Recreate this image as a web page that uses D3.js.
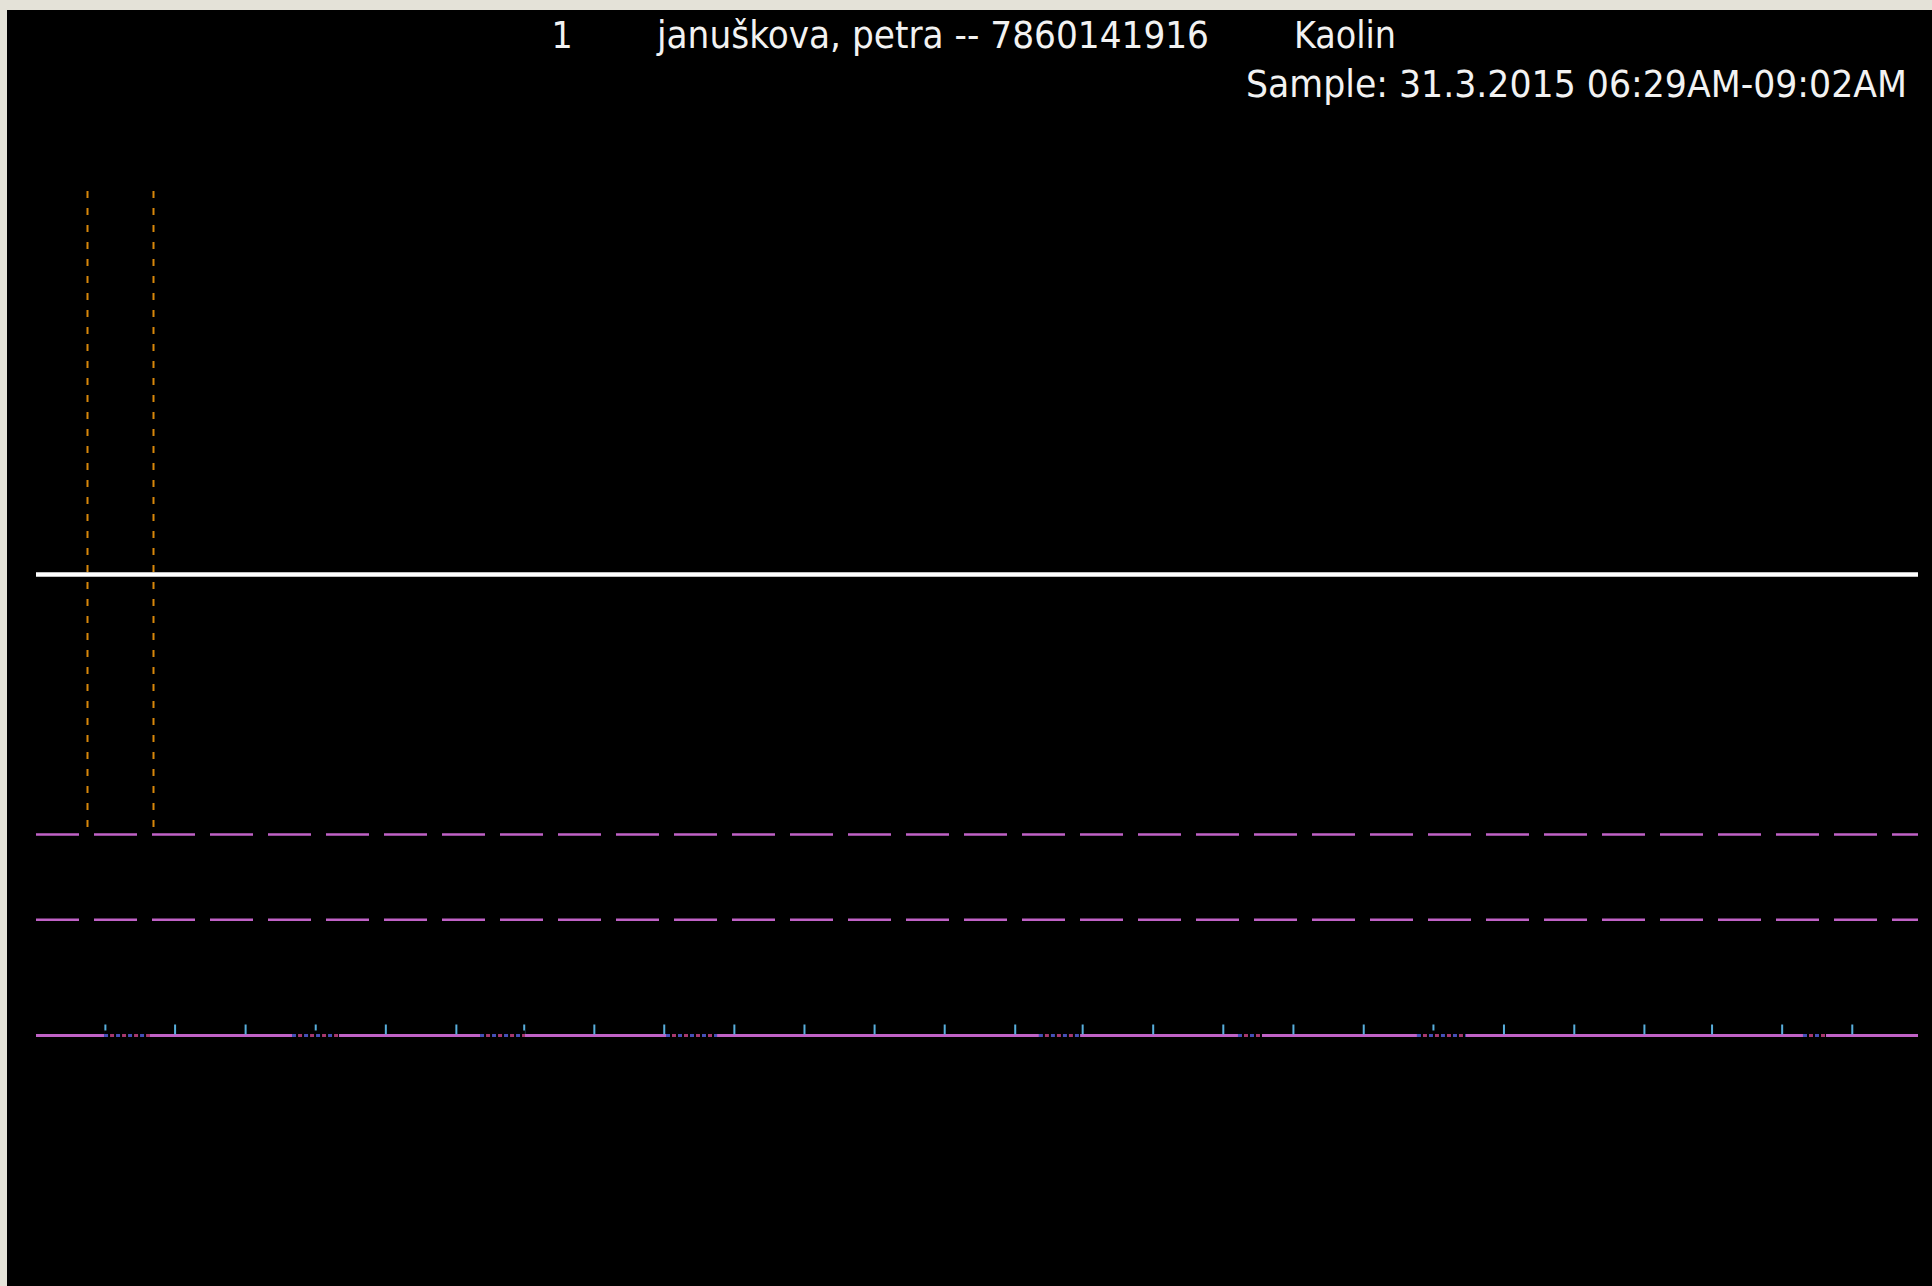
<!DOCTYPE html>
<html>
<head>
<meta charset="utf-8">
<script src="https://cdn.jsdelivr.net/npm/d3@7"></script>
<style>
  html, body { margin: 0; padding: 0; background: #e4e2d8; overflow: hidden; }
  svg { display: block; }
</style>
</head>
<body>
<svg id="chart" width="1932" height="1286"></svg>
<script>
// header texts
const headerItems = ["1", "januškova, petra -- 7860141916", "Kaolin"];
const sampleLabel = "Sample: 31.3.2015 06:29AM-09:02AM";

// time axis in seconds from 06:29 to 09:02
const timeDomain = [0, 9180];

// blue epoch ticks (seconds)
const tickTimes = [336, 676, 1020, 1362, 1704, 2048, 2379, 2721, 3062, 3404,
    3746, 4088, 4430, 4774, 5103, 5447, 5789, 6131, 6474, 6814,
    7158, 7501, 7843, 8173, 8515, 8857];

// dotted stretches on the base line (seconds)
const gapStarts = [332, 1249, 2166, 3073, 4892, 5863, 6736, 8619];
const gapEnds = [556, 1478, 2385, 3322, 5093, 5980, 6975, 8731];

// orange event markers (seconds)
const markerTimes = [251, 571];
const markerTop = 100;

// white trace
const traceTimes = [0, 9180];
const traceValues = [54.6, 54.6];

// purple dashed reference levels and base level
const thresholdValues = [23.8, 13.7];
const baseValue = 0;

const svg = d3.select("#chart");
const W = +svg.attr("width"), H = +svg.attr("height");

var x = d3.scaleLinear().domain(timeDomain).range([36, 1918]);
var y = d3.scaleLinear().domain([0, 100]).range([1035.5, 191]);

// black panel
svg.append("rect")
    .attr("x", 7)
    .attr("y", 10)
    .attr("width", W - 7)
    .attr("height", H - 10)
    .attr("fill", "#000");

// header
const font = "'DejaVu Sans Condensed', 'DejaVu Sans', sans-serif";
const header = [
    { t: headerItems[0], x: 562, y: 48, anchor: "middle" },
    { t: headerItems[1], x: 657, y: 48, len: 552 },
    { t: headerItems[2], x: 1294, y: 48, len: 102 },
    { t: sampleLabel, x: 1246, y: 97, len: 661 },
];
header.forEach(h => {
    var txt = svg.append("text")
        .attr("x", h.x)
        .attr("y", h.y)
        .attr("fill", "#f2f2f2")
        .attr("text-anchor", h.anchor || "start")
        .style("font-family", font)
        .style("font-size", "37px")
        .text(h.t);
    if (h.len) {
        txt.attr("textLength", h.len).attr("lengthAdjust", "spacingAndGlyphs");
    }
});

// orange markers
svg.append("g")
    .selectAll("line")
    .data(markerTimes)
    .join("line")
    .attr("x1", d => Math.round(x(d)) + 0.5)
    .attr("x2", d => Math.round(x(d)) + 0.5)
    .attr("y1", y(markerTop))
    .attr("y2", y(thresholdValues[0]))
    .attr("stroke", "#d8870a")
    .attr("stroke-width", 2)
    .attr("stroke-dasharray", "7,10");

// white trace
svg.append("path")
    .datum(traceTimes.map((t, i) => [t, traceValues[i]]))
    .attr("fill", "none")
    .attr("stroke", "#ffffff")
    .attr("stroke-width", 4.5)
    .attr("d", d3.line().x(d => x(d[0])).y(d => y(d[1])));

// purple dashed levels
svg.append("g")
    .selectAll("line")
    .data(thresholdValues)
    .join("line")
    .attr("x1", x(timeDomain[0]))
    .attr("x2", x(timeDomain[1]))
    .attr("y1", d => y(d))
    .attr("y2", d => y(d))
    .attr("stroke", "#c062c6")
    .attr("stroke-width", 2.5)
    .attr("stroke-dasharray", "43,15");

// base line
svg.append("line")
    .attr("x1", x(timeDomain[0]))
    .attr("x2", x(timeDomain[1]))
    .attr("y1", y(baseValue))
    .attr("y2", y(baseValue))
    .attr("stroke", "#c062c6")
    .attr("stroke-width", 3);

// epoch ticks
var axis = svg.append("g")
    .attr("transform", "translate(0," + (y(baseValue) - 1) + ")")
    .call(d3.axisTop(x).tickValues(tickTimes).tickSize(10).tickFormat(""));
axis.select(".domain").remove();
axis.selectAll(".tick line")
    .attr("stroke", "#58aedc")
    .attr("stroke-width", 2);

// dotted stretches: mask then dashes
const gaps = gapStarts.map((s, i) => [s, gapEnds[i]]);
var gg = svg.append("g");
gg.selectAll("rect")
    .data(gaps)
    .join("rect")
    .attr("x", d => x(d[0]))
    .attr("width", d => x(d[1]) - x(d[0]))
    .attr("y", y(baseValue) - 5)
    .attr("height", 9)
    .attr("fill", "#000");
gg.selectAll("line.b")
    .data(gaps)
    .join("line")
    .attr("class", "b")
    .attr("x1", d => x(d[0]))
    .attr("x2", d => x(d[1]))
    .attr("y1", y(baseValue))
    .attr("y2", y(baseValue))
    .attr("stroke", "#4650b8")
    .attr("stroke-width", 3)
    .attr("stroke-dasharray", "4,8");
gg.selectAll("line.r")
    .data(gaps)
    .join("line")
    .attr("class", "r")
    .attr("x1", d => x(d[0]))
    .attr("x2", d => x(d[1]))
    .attr("y1", y(baseValue))
    .attr("y2", y(baseValue))
    .attr("stroke", "#a8386e")
    .attr("stroke-width", 3)
    .attr("stroke-dasharray", "4,8")
    .attr("stroke-dashoffset", -6);
</script>
</body>
</html>
